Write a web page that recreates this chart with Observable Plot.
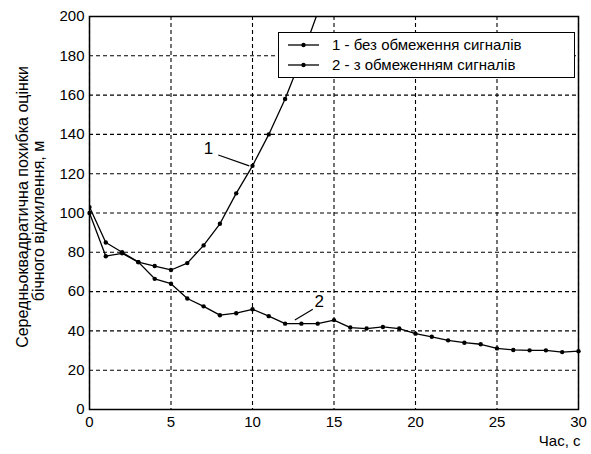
<!DOCTYPE html>
<html><head><meta charset="utf-8">
<script src="https://cdn.jsdelivr.net/npm/d3@7"></script>
<script src="https://cdn.jsdelivr.net/npm/@observablehq/plot@0.6"></script>
<style>
body{margin:0;background:#fff;font-family:"Liberation Sans",Arial,sans-serif;}
#wrap{position:relative;width:591px;height:454px;}
#legend{position:absolute;left:278px;top:32px;width:297px;height:46px;border:1.5px solid #000;box-sizing:border-box;background:#fff;font-size:15px;color:#000;}
.row{position:absolute;left:0;height:20px;width:100%;}
.row svg{position:absolute;left:9px;top:0;}
.row span{position:absolute;left:53px;top:1px;white-space:nowrap;line-height:18px;}
</style></head>
<body><div id="wrap"><div id="chart"></div>
<div id="legend">
 <div class="row" style="top:2px"><svg width="32" height="20"><line x1="0" y1="10" x2="31" y2="10" stroke="#000" stroke-width="1.3"/><circle cx="15.5" cy="10" r="2.2" fill="#000"/></svg><span id="l1"></span></div>
 <div class="row" style="top:22px"><svg width="32" height="20"><line x1="0" y1="10" x2="31" y2="10" stroke="#000" stroke-width="1.3"/><circle cx="15.5" cy="10" r="2.2" fill="#000"/></svg><span id="l2"></span></div>
</div>
</div>
<script>
// Time axis, s
const time1 = [0,1,2,3,4,5,6,7,8,9,10,11,12,13,14];
// Series 1: without signal limitation, m
const err1 = [103,85,80,75,73,71,74.5,83.5,94.5,110,124,140,158,179,202];
const time2 = [0,1,2,3,4,5,6,7,8,9,10,11,12,13,14,15,16,17,18,19,20,21,22,23,24,25,26,27,28,29,30];
// Series 2: with signal limitation, m
const err2 = [100,78,79.5,75,66.5,64,56.5,52.5,48,49,51,47.5,43.7,43.7,43.7,45.5,41.7,41.2,42,41.2,38.6,37,35.2,34,33.2,31.1,30.3,30.1,30.1,29.2,29.7];
const seriesNames = ["1 - без обмеження сигналів", "2 - з обмеженням сигналів"];
const xTicks = [0,5,10,15,20,25,30];
const yTicks = [0,20,40,60,80,100,120,140,160,180,200];
const yLabel = ["Середньоквадратична похибка оцінки", "бічного відхилення, м"];
const xLabel = "Час, с";
// Curve annotations: label position and leader line (data units)
const annLabels = [{t:"1", x:7.3, y:133}, {t:"2", x:14.1, y:55}];
const annLeaders = [{x1:7.9, y1:129.5, x2:9.8, y2:124}, {x1:12.6, y1:45.5, x2:13.7, y2:51}];

const s1 = time1.map((t,i)=>({t, v:err1[i]}));
const s2 = time2.map((t,i)=>({t, v:err2[i]}));
document.getElementById("l1").textContent = seriesNames[0];
document.getElementById("l2").textContent = seriesNames[1];

const grid = {stroke:"#000", strokeOpacity:1, strokeDasharray:"4,3", strokeWidth:1.1};
const chart = Plot.plot({
  width:591, height:454, marginLeft:89, marginRight:13, marginTop:16, marginBottom:45,
  style:{fontFamily:"'Liberation Sans', Arial, sans-serif", fontSize:"15px", color:"#000", background:"#fff"},
  x:{domain:[0,30], label:null},
  y:{domain:[0,200], label:null},
  marks:[
    Plot.gridX(xTicks, grid),
    Plot.gridY(yTicks, grid),
    Plot.axisX(xTicks, {tickSize:0, tickPadding:7, fontSize:15, label:null}),
    Plot.axisY(yTicks, {tickSize:0, tickPadding:5, fontSize:15, label:null}),
    Plot.line(s1, {x:"t", y:"v", stroke:"#000", strokeWidth:1.3, clip:true}),
    Plot.dot(s1, {x:"t", y:"v", r:2.2, fill:"#000", clip:true}),
    Plot.line(s2, {x:"t", y:"v", stroke:"#000", strokeWidth:1.3}),
    Plot.dot(s2, {x:"t", y:"v", r:2.2, fill:"#000"}),
    Plot.frame({stroke:"#000", strokeWidth:1.5}),
    Plot.link(annLeaders, {x1:"x1", y1:"y1", x2:"x2", y2:"y2", stroke:"#000", strokeWidth:1.2}),
    Plot.text(annLabels, {x:"x", y:"y", text:"t", fontSize:17}),
    Plot.text([yLabel[0]], {frameAnchor:"left", textAnchor:"middle", lineAnchor:"middle", rotate:-90, dx:-67, dy:-6, fontSize:16}),
    Plot.text([yLabel[1]], {frameAnchor:"left", textAnchor:"middle", lineAnchor:"middle", rotate:-90, dx:-51, dy:8, fontSize:16}),
    Plot.text([xLabel], {frameAnchor:"bottom-right", textAnchor:"end", lineAnchor:"middle", dx:2, dy:32, fontSize:15})
  ]
});
document.getElementById("chart").appendChild(chart);
</script>
</body></html>
